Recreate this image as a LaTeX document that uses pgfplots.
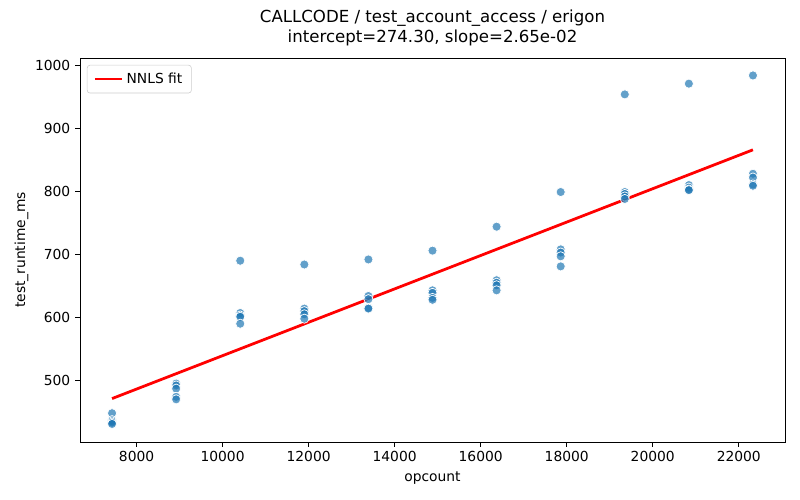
\documentclass[border=0pt]{standalone}
\usepackage{fontspec}
\setmainfont{DejaVu Sans}
\usepackage{pgfplots}
\usepackage{pgfplotstable}
\pgfplotsset{compat=1.18}
\definecolor{tabblue}{HTML}{1F77B4}
\pgfplotstableread{
x y
7430 448
7430 437
7430 435
7430 433
7430 431
8920 495
8920 492
8920 487
8920 474
8920 470
10410 690
10410 607
10410 603
10410 601
10410 590
11900 684
11900 614
11900 610
11900 605
11900 598
13390 692
13390 634
13390 629
13390 615
13390 614
14880 706
14880 643
14880 639
14880 631
14880 628
16370 744
16370 659
16370 655
16370 651
16370 643
17860 799
17860 708
17860 703
17860 697
17860 681
19350 954
19350 799
19350 796
19350 792
19350 788
20840 971
20840 810
20840 806
20840 803
20840 802
22330 984
22330 828
22330 822
22330 811
22330 809
}\runs
\begin{document}
\begin{tikzpicture}
\path[use as bounding box] (0pt,0pt) rectangle (578.16pt,361.35pt);
\begin{axis}[
  at={(57.82pt,41.92pt)}, anchor=south west,
  scale only axis, width=509.5pt, height=277.5pt,
  xmin=6685, xmax=23075, ymin=402.3, ymax=1011.7,
  xtick={8000,10000,...,22000}, ytick={500,600,...,1000},
  scaled ticks=false,
  xticklabel style={/pgf/number format/fixed},
  /pgf/number format/assume math mode=true,
  /pgf/number format/set thousands separator={},
  tick label style={font=\fontsize{10}{12}\selectfont},
  label style={font=\fontsize{10}{12}\selectfont},
  ylabel style={yshift=-2pt},
  tick align=outside, tick pos=left,
  major tick length=3.5pt,
  every tick/.style={black, line width=0.7pt},
  axis line style={line width=0.7pt},
  xlabel={opcount}, ylabel={test\_runtime\_ms},
  title={CALLCODE / test\_account\_access / erigon\\intercept=274.30, slope=2.65e-02},
  title style={font=\fontsize{12}{14.4}\selectfont, align=center, yshift=-1pt},
  legend style={at={(rel axis cs:0,1)}, anchor=north west, xshift=5pt, yshift=-5pt,
    draw=black!20, rounded corners=2pt, font=\fontsize{10}{12}\selectfont,
    inner xsep=4.5pt, inner ysep=3.5pt},
  legend image code/.code={\draw[#1, line width=2pt] (0pt,0pt) -- (20pt,0pt);},
]
\addplot[only marks, mark=*, mark size=3.3pt,
  mark options={fill=tabblue, fill opacity=0.7, draw=white, line width=0.5pt},
  forget plot] table[x=x, y=y] {\runs};
\addplot[red, line width=2pt] coordinates {(7430,471.2) (22330,866.0)};
\addlegendentry{NNLS fit}
\end{axis}
\end{tikzpicture}
\end{document}
